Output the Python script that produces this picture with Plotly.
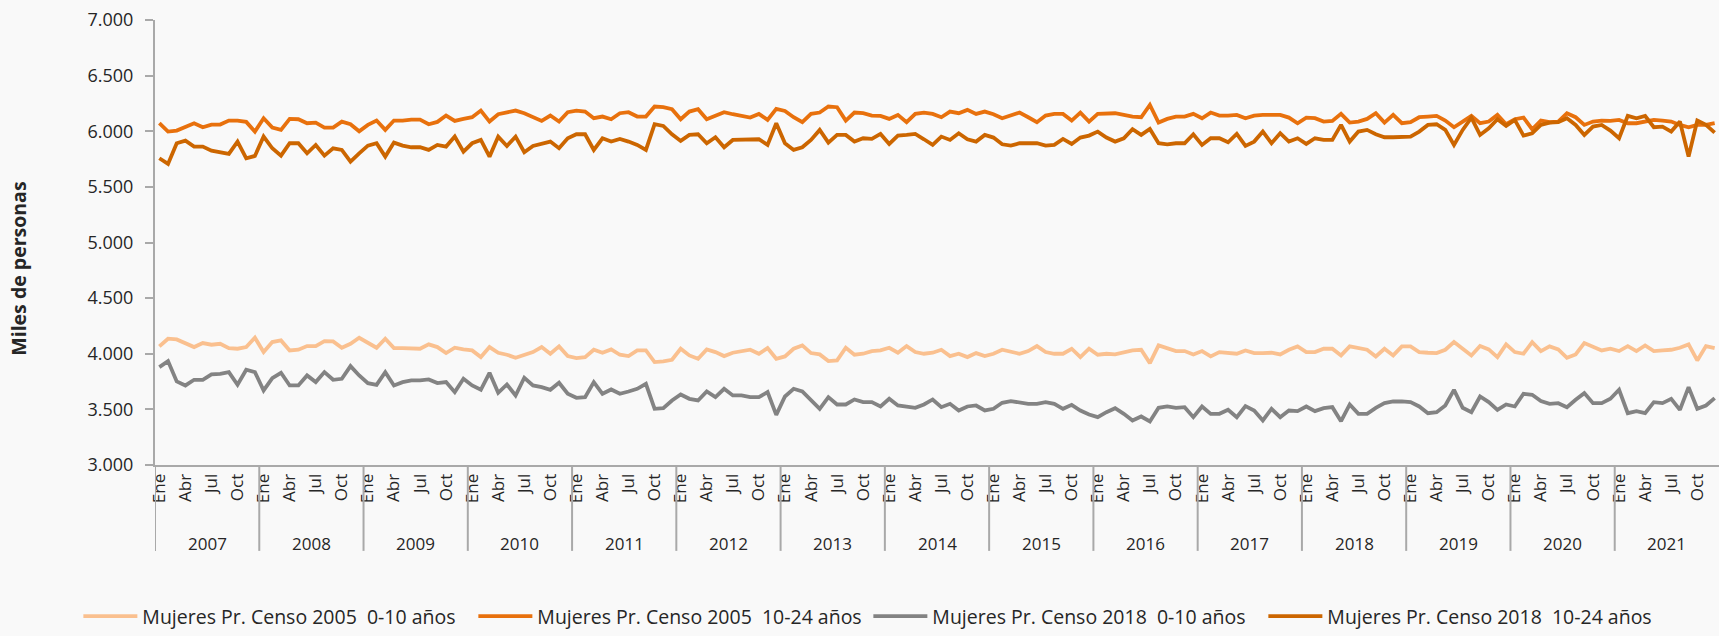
import plotly.graph_objects as go

years = list(range(2007, 2022))
month_names = ["Ene", "Feb", "Mar", "Abr", "May", "Jun", "Jul", "Ago", "Sep", "Oct", "Nov", "Dic"]
shown_months = ["Ene", "Abr", "Jul", "Oct"]

# Miles de personas, monthly Jan 2007 - Dec 2021
mujeres_2005_0_10 = [
    4066, 4135, 4129, 4096, 4060, 4096, 4081, 4090, 4051, 4045, 4060, 4144,
    4015, 4105, 4120, 4030, 4036, 4069, 4069, 4114, 4111, 4054, 4090, 4144,
    4096, 4054, 4135, 4051, 4051, 4045, 4045, 4084, 4060, 4006, 4054, 4039,
    4030, 3970, 4060, 4009, 3991, 3964, 3991, 4015, 4060, 4000, 4066, 3979,
    3961, 3970, 4036, 4009, 4039, 3991, 3979, 4030, 4030, 3925, 3931, 3946,
    4045, 3985, 3955, 4039, 4015, 3979, 4009, 4021, 4036, 4000, 4051, 3955,
    3976, 4045, 4075, 4006, 3994, 3934, 3940, 4054, 3991, 4000, 4024, 4030,
    4054, 4009, 4069, 4015, 4000, 4009, 4036, 3979, 4000, 3970, 4006, 3979,
    4000, 4036, 4015, 4000, 4024, 4069, 4015, 4000, 4000, 4045, 3970, 4045,
    3991, 4000, 3994, 4009, 4030, 4036, 3916, 4075, 4045, 4024, 4024, 3994,
    4024, 3976, 4015, 4009, 4000, 4030, 4006, 4006, 4009, 3994, 4036, 4066,
    4015, 4015, 4045, 4045, 3985, 4066, 4054, 4036, 3976, 4045, 3985, 4066,
    4066, 4015, 4009, 4006, 4036, 4105, 4045, 3985, 4069, 4039, 3970, 4084,
    4015, 4000, 4105, 4024, 4066, 4039, 3964, 3994, 4096, 4066, 4030, 4045,
    4024, 4069, 4024, 4075, 4024, 4030, 4036, 4054, 4084, 3940, 4069, 4051,
]
mujeres_2005_10_24 = [
    6072, 5997, 6006, 6042, 6072, 6036, 6060, 6060, 6096, 6096, 6084, 5997,
    6117, 6033, 6012, 6111, 6108, 6072, 6078, 6033, 6033, 6087, 6063, 6000,
    6057, 6096, 6012, 6096, 6096, 6105, 6105, 6063, 6084, 6141, 6093, 6111,
    6126, 6186, 6087, 6153, 6168, 6186, 6162, 6132, 6093, 6141, 6087, 6171,
    6186, 6177, 6117, 6132, 6108, 6162, 6171, 6132, 6132, 6222, 6216, 6198,
    6108, 6177, 6198, 6108, 6138, 6171, 6153, 6138, 6123, 6156, 6102, 6201,
    6183, 6126, 6081, 6156, 6168, 6222, 6216, 6096, 6168, 6162, 6141, 6138,
    6111, 6147, 6081, 6156, 6168, 6156, 6126, 6177, 6162, 6192, 6156, 6177,
    6153, 6117, 6147, 6168, 6126, 6081, 6141, 6156, 6156, 6096, 6168, 6087,
    6156, 6156, 6162, 6147, 6132, 6126, 6237, 6078, 6111, 6132, 6132, 6156,
    6117, 6168, 6141, 6141, 6147, 6117, 6141, 6147, 6147, 6147, 6123, 6072,
    6123, 6117, 6087, 6093, 6156, 6078, 6087, 6111, 6162, 6078, 6147, 6072,
    6081, 6126, 6132, 6138, 6096, 6036, 6087, 6138, 6072, 6087, 6147, 6063,
    6108, 6123, 6018, 6096, 6081, 6087, 6162, 6126, 6057, 6087, 6096, 6093,
    6102, 6072, 6072, 6087, 6102, 6096, 6087, 6057, 6036, 6057, 6057, 6072,
]
mujeres_2018_0_10 = [
    3880, 3934, 3751, 3715, 3766, 3766, 3814, 3820, 3835, 3721, 3856, 3835,
    3670, 3781, 3829, 3715, 3715, 3805, 3745, 3835, 3766, 3775, 3889, 3805,
    3736, 3721, 3835, 3715, 3745, 3760, 3760, 3769, 3736, 3745, 3655, 3775,
    3715, 3676, 3829, 3649, 3724, 3625, 3784, 3715, 3700, 3676, 3739, 3640,
    3604, 3610, 3745, 3640, 3679, 3640, 3661, 3685, 3730, 3505, 3511, 3580,
    3634, 3595, 3580, 3661, 3610, 3685, 3625, 3625, 3610, 3610, 3655, 3451,
    3616, 3685, 3661, 3580, 3505, 3610, 3544, 3544, 3589, 3565, 3565, 3526,
    3595, 3535, 3526, 3514, 3544, 3589, 3520, 3550, 3490, 3526, 3535, 3490,
    3505, 3559, 3574, 3559, 3550, 3550, 3565, 3550, 3505, 3541, 3490, 3454,
    3430, 3475, 3511, 3460, 3400, 3436, 3391, 3514, 3526, 3514, 3520, 3430,
    3526, 3460, 3460, 3496, 3430, 3529, 3490, 3400, 3505, 3430, 3490, 3484,
    3526, 3484, 3511, 3520, 3394, 3544, 3460, 3460, 3514, 3556, 3571, 3571,
    3565, 3526, 3466, 3475, 3535, 3676, 3514, 3475, 3616, 3565, 3496, 3544,
    3526, 3640, 3631, 3574, 3550, 3556, 3520, 3586, 3646, 3556, 3556, 3595,
    3676, 3466, 3484, 3466, 3565, 3556, 3595, 3496, 3700, 3505, 3535, 3601,
]
mujeres_2018_10_24 = [
    5757, 5706, 5892, 5916, 5862, 5862, 5826, 5814, 5796, 5907, 5757, 5778,
    5952, 5847, 5781, 5892, 5892, 5802, 5877, 5781, 5847, 5832, 5727, 5802,
    5871, 5892, 5772, 5898, 5871, 5856, 5856, 5832, 5877, 5862, 5952, 5817,
    5892, 5922, 5772, 5952, 5868, 5952, 5811, 5868, 5886, 5907, 5847, 5937,
    5973, 5973, 5832, 5937, 5907, 5931, 5907, 5877, 5832, 6063, 6048, 5973,
    5913, 5967, 5973, 5892, 5946, 5856, 5922, 5922, 5928, 5928, 5877, 6072,
    5892, 5832, 5856, 5922, 6012, 5898, 5967, 5967, 5907, 5937, 5931, 5976,
    5886, 5961, 5967, 5976, 5928, 5877, 5952, 5922, 5982, 5928, 5907, 5967,
    5943, 5883, 5871, 5892, 5892, 5892, 5871, 5877, 5931, 5886, 5943, 5961,
    5997, 5943, 5907, 5937, 6018, 5967, 6021, 5892, 5883, 5892, 5892, 5973,
    5877, 5937, 5937, 5901, 5976, 5868, 5907, 5997, 5892, 5982, 5907, 5937,
    5886, 5937, 5922, 5922, 6057, 5907, 5997, 6012, 5973, 5946, 5946, 5952,
    5952, 5997, 6057, 6063, 6012, 5877, 6012, 6123, 5967, 6027, 6108, 6048,
    6102, 5961, 5982, 6057, 6078, 6081, 6117, 6057, 5967, 6042, 6057, 6006,
    5937, 6138, 6117, 6138, 6036, 6042, 5997, 6087, 5772, 6096, 6057, 5988,
]

series = [
    ("Mujeres Pr. Censo 2005  0-10 años", mujeres_2005_0_10, "#FAC08F"),
    ("Mujeres Pr. Censo 2005  10-24 años", mujeres_2005_10_24, "#E8710D"),
    ("Mujeres Pr. Censo 2018  0-10 años", mujeres_2018_0_10, "#838383"),
    ("Mujeres Pr. Censo 2018  10-24 años", mujeres_2018_10_24, "#CC6600"),
]

FONT = "Open Sans"
TXT = "#262626"
AXC = "#A9A9A9"

n = len(years) * 12
x = list(range(n))
hover = [f"{month_names[i % 12]} {years[i // 12]}" for i in x]

fig = go.Figure()
for name, vals, col in series:
    fig.add_trace(go.Scatter(x=x, y=vals, mode="lines", name=name, text=hover,
                             line=dict(color=col, width=3.8)))

tickvals = [i for i in x if month_names[i % 12] in shown_months]
ticktext = [month_names[i % 12] for i in tickvals]

fig.update_xaxes(range=[-0.5, n - 0.5], tickmode="array", tickvals=tickvals, ticktext=ticktext,
                 tickangle=-90, ticks="", showline=True, linecolor=AXC, linewidth=2,
                 showgrid=False, zeroline=False, tickfont=dict(family=FONT, size=17, color=TXT))
fig.update_yaxes(range=[3000, 7000], dtick=500, tickformat=",d", ticks="outside", ticklen=8,
                 tickcolor=AXC, tickwidth=2, showline=True, linecolor=AXC, linewidth=2,
                 showgrid=False, zeroline=False, ticklabelstandoff=8,
                 tickfont=dict(family=FONT, size=18, color=TXT))

shapes = []
annotations = []
for k, yr in enumerate(years):
    shapes.append(dict(type="line", xref="x", yref="paper", x0=k * 12 - 0.5, x1=k * 12 - 0.5,
                       y0=0, y1=-0.193, line=dict(color=AXC, width=2)))
    annotations.append(dict(text=str(yr), xref="x", yref="paper", x=k * 12 + 5.5, y=-0.176,
                            showarrow=False, yanchor="middle",
                            font=dict(family=FONT, size=17, color=TXT)))
annotations.append(dict(text="<b>Miles de personas</b>", xref="paper", yref="paper",
                        x=-0.087, y=0.441, textangle=-90, showarrow=False,
                        xanchor="center", yanchor="middle",
                        font=dict(family=FONT, size=19.5, color=TXT)))

fig.update_layout(
    width=1719, height=636,
    margin=dict(l=155, r=0, t=20, b=171, autoexpand=False),
    paper_bgcolor="#F9F9F9", plot_bgcolor="#F9F9F9",
    separators=",.",
    shapes=shapes, annotations=annotations,
    showlegend=True,
    legend=dict(orientation="h", x=-0.049, xanchor="left", y=-0.384, yanchor="bottom",
                font=dict(family=FONT, size=19.5, color=TXT), bgcolor="rgba(0,0,0,0)",
                itemwidth=54, entrywidth=326, entrywidthmode="pixels",
                traceorder="normal"),
)

fig.write_html("out.html", config={"displayModeBar": False},
               post_script="document.body.style.margin='0';")
